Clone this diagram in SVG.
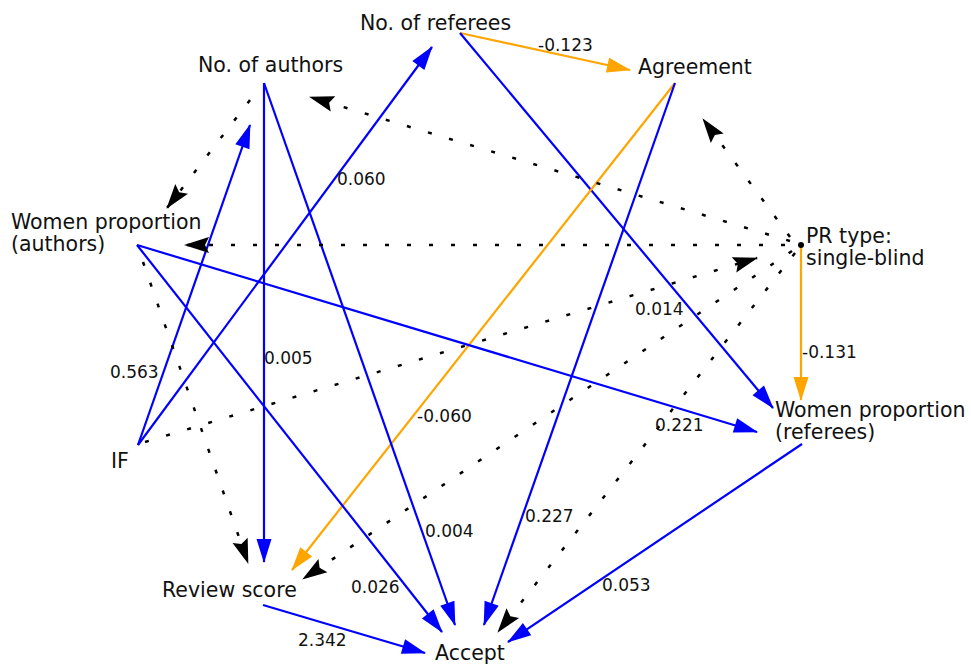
<svg xmlns="http://www.w3.org/2000/svg" width="971" height="665" viewBox="0 0 971 665">
<defs>
<style>
.n{font-family:"DejaVu Sans","Liberation Sans",sans-serif;font-size:20.5px;fill:#111}
.l{font-family:"DejaVu Sans","Liberation Sans",sans-serif;font-size:17px;fill:#111}
.b{stroke:#0000ff;stroke-width:2.2;fill:none;marker-end:url(#hb)}
.o{stroke:#ffa500;stroke-width:2.2;fill:none;marker-end:url(#ho)}
.d{stroke:#000;stroke-width:2.5;fill:none;stroke-dasharray:4 18;marker-end:url(#hd)}
</style>
<marker id="hb" markerUnits="userSpaceOnUse" orient="auto" markerWidth="30" markerHeight="20" refX="0" refY="0" viewBox="-26 -10 30 20" overflow="visible"><path d="M1,0 L-23,-7.5 L-23,7.5 Z" fill="#0000ff"/></marker>
<marker id="ho" markerUnits="userSpaceOnUse" orient="auto" markerWidth="30" markerHeight="20" refX="0" refY="0" viewBox="-26 -10 30 20" overflow="visible"><path d="M1,0 L-23,-7.5 L-23,7.5 Z" fill="#ffa500"/></marker>
<marker id="hd" markerUnits="userSpaceOnUse" orient="auto" markerWidth="30" markerHeight="20" refX="0" refY="0" viewBox="-26 -10 30 20" overflow="visible"><path d="M1,0 L-24,-8 L-20,0 L-24,8 Z" fill="#000"/></marker>
</defs>
<rect width="971" height="665" fill="#fff"/>
<g id="connectors">
<line class="o" x1="460" y1="33" x2="630" y2="70"/>
<line class="b" x1="460" y1="33" x2="773" y2="408"/>
<line class="o" x1="675" y1="83" x2="292" y2="570"/>
<line class="b" x1="675" y1="83" x2="484" y2="625"/>
<line class="b" x1="264" y1="83" x2="264" y2="562"/>
<line class="b" x1="264" y1="83" x2="455" y2="625"/>
<line class="b" x1="138" y1="445" x2="250" y2="125"/>
<line class="b" x1="138" y1="445" x2="432" y2="47"/>
<line class="b" x1="137" y1="245" x2="442" y2="632"/>
<line class="b" x1="137" y1="245" x2="757" y2="432"/>
<line class="b" x1="802" y1="444" x2="508" y2="642"/>
<line class="b" x1="263" y1="605" x2="425" y2="653"/>
<line class="o" x1="801" y1="245" x2="801" y2="400"/>
<line class="d" x1="250" y1="100" x2="167" y2="208"/>
<line class="d" x1="790" y1="241" x2="310" y2="97"/>
<line class="d" x1="790" y1="237" x2="703" y2="119"/>
<line class="d" x1="785" y1="245" x2="185" y2="245"/>
<line class="d" x1="145" y1="442" x2="757" y2="258"/>
<line class="d" x1="792" y1="251" x2="303" y2="579"/>
<line class="d" x1="795" y1="253" x2="498" y2="632"/>
<line class="d" x1="143" y1="262" x2="248" y2="563"/>
<circle cx="801" cy="245" r="3" fill="#000"/>
<text class="l" x="538" y="51">-0.123</text>
<text class="l" x="337" y="185">0.060</text>
<text class="l" x="635" y="315">0.014</text>
<text class="l" x="802" y="358">-0.131</text>
<text class="l" x="655" y="431">0.221</text>
<text class="l" x="110" y="378">0.563</text>
<text class="l" x="264" y="364">0.005</text>
<text class="l" x="417" y="422">-0.060</text>
<text class="l" x="425" y="537">0.004</text>
<text class="l" x="525" y="522">0.227</text>
<text class="l" x="351" y="593">0.026</text>
<text class="l" x="298" y="646">2.342</text>
<text class="l" x="602" y="591">0.053</text>
</g>
<g id="node-referees"><text class="n" x="360" y="30">No. of referees</text></g>
<g id="node-authors"><text class="n" x="198" y="72">No. of authors</text></g>
<g id="node-agreement"><text class="n" x="638" y="74">Agreement</text></g>
<g id="node-wp-authors"><text class="n" x="11" y="229">Women proportion</text><text class="n" x="11" y="251">(authors)</text></g>
<g id="node-prtype"><text class="n" x="806" y="243">PR type:</text><text class="n" x="806" y="265">single-blind</text></g>
<g id="node-wp-referees"><text class="n" x="775" y="417">Women proportion</text><text class="n" x="775" y="439">(referees)</text></g>
<g id="node-if"><text class="n" x="111" y="468">IF</text></g>
<g id="node-review"><text class="n" x="162" y="597">Review score</text></g>
<g id="node-accept"><text class="n" x="435" y="660">Accept</text></g>
</svg>
